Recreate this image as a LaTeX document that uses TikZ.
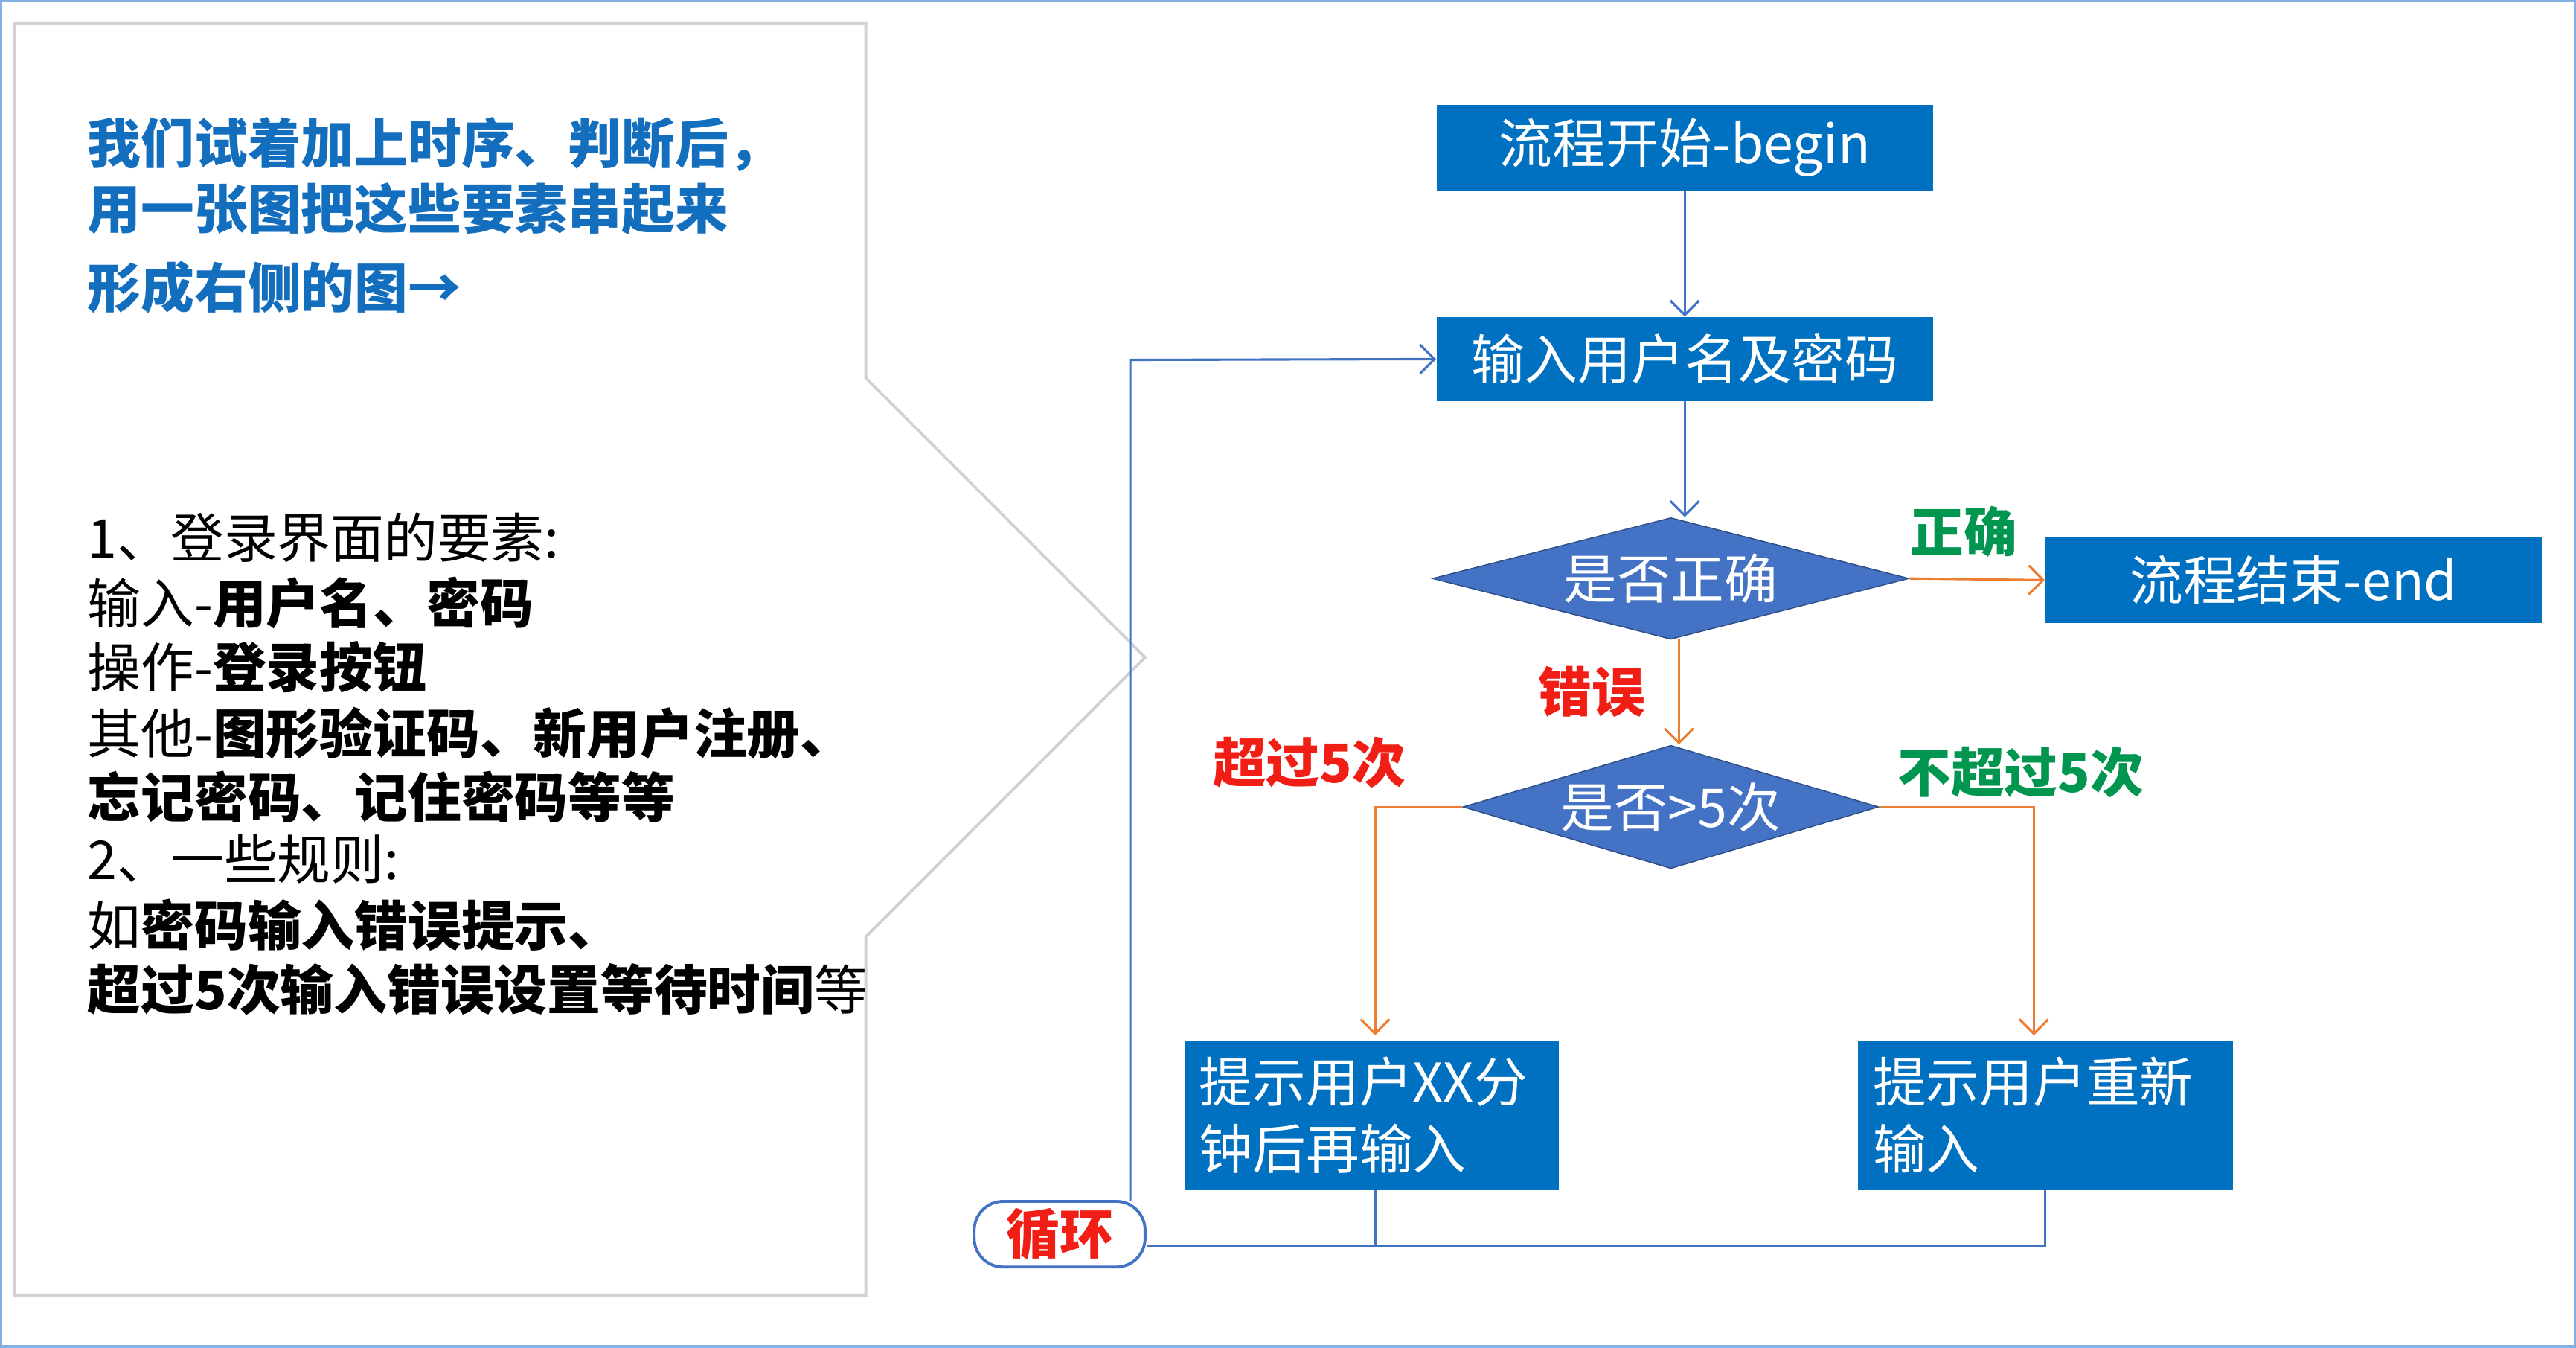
\documentclass[tikz,border=0pt]{standalone}
\usepackage{fontspec}
\setmainfont{Noto Sans CJK SC}
\usetikzlibrary{shapes.geometric,arrows.meta}
\definecolor{bbox}{RGB}{0,112,192}
\definecolor{dia}{RGB}{68,114,196}
\definecolor{org}{RGB}{237,125,49}
\definecolor{grn}{RGB}{0,150,80}
\definecolor{rd}{RGB}{240,30,20}
\definecolor{ttl}{RGB}{20,110,190}
\newcommand{\fsz}{\fontsize{18.5}{23}\selectfont}
\tikzset{
 bx/.style={fill=bbox,text=white,font=\fsz,inner sep=0pt},
 dm/.style={diamond,aspect=3.9,fill=dia,draw=dia!70!black,text=white,font=\fsz,inner sep=0pt},
 ba/.style={draw=dia,line width=0.8pt,-{Straight Barb[length=5pt]}},
 oa/.style={draw=org,line width=0.8pt,-{Straight Barb[length=5pt]}},
 lab/.style={font=\fsz\bfseries},
 lt/.style={anchor=west,font=\fsz,inner sep=0pt},
}
\begin{document}
\begin{tikzpicture}[x=0.02cm,y=-0.02cm]
\useasboundingbox (0,0) rectangle (1568,820);
\fill[white] (0,0) rectangle (1568,820);
\draw[cyan!60!blue!50,line width=1pt] (0.5,0.5) rectangle (1567.5,819.5);
% left panel
\draw[gray!35,line width=1pt] (527,14) -- (9,14) -- (9,788) -- (527,788) -- (527,570) -- (697,400) -- (527,230) -- cycle;
\begin{scope}[every node/.style={lt,text=ttl,font=\fsz\bfseries}]
\node (t1) at (53,88) {我们试着加上时序、判断后，};
\node (t2) at (53,127) {用一张图把这些要素串起来};
\node (t3) at (53,175) {形成右侧的图→};
\end{scope}
\node[lt] (l1) at (53,327) {1、登录界面的要素:};
\node[lt] (l2) at (53,367) {输入-\textbf{用户名、密码}};
\node[lt] (l3) at (53,406) {操作-\textbf{登录按钮}};
\node[lt] (l4) at (53,446) {其他-\textbf{图形验证码、新用户注册、}};
\node[lt] (l5) at (53,485) {\textbf{忘记密码、记住密码等等}};
\node[lt] (l6) at (53,523) {2、一些规则:};
\node[lt] (l7) at (53,563) {如\textbf{密码输入错误提示、}};
\node[lt] (l8) at (53,602) {\textbf{超过5次输入错误设置等待时间}等};
% flowchart
\node[bx,minimum width=302*0.02cm,minimum height=52*0.02cm] (b) at (1025.5,90) {流程开始-begin};
\node[bx,minimum width=302*0.02cm,minimum height=51*0.02cm] (in) at (1025.5,218.5) {输入用户名及密码};
\node[dm,minimum width=290*0.02cm,minimum height=74*0.02cm] (d1) at (1017,352) {是否正确};
\node[bx,minimum width=302*0.02cm,minimum height=52*0.02cm] (e) at (1396,353) {流程结束-end};
\node[dm,minimum width=253*0.02cm,minimum height=75*0.02cm] (d2) at (1017,491) {是否>5次};
\node[bx,minimum width=228*0.02cm,minimum height=91*0.02cm,text width=210*0.02cm,align=left] (p1) at (835,678.5) {提示用户XX分\\钟后再输入};
\node[bx,minimum width=228*0.02cm,minimum height=91*0.02cm,text width=210*0.02cm,align=left] (p2) at (1245,678.5) {提示用户重新\\输入};
\node[draw=dia,line width=1pt,rounded corners=10pt,fill=white,minimum width=104*0.02cm,minimum height=40*0.02cm,text=rd,font=\fsz\bfseries,inner sep=0pt] (lp) at (645,751) {循环};
\draw[ba] (b.south) -- (in.north);
\draw[ba] (in.south) -- (in.south|-d1.north);
\draw[oa] (d1.east) -- (e.west) node[pos=0.4,above=4pt,text=grn,lab]{正确};
\draw[oa] (1022,389) -- (1022,453) node[midway,left=8pt,text=rd,lab]{错误};
\coordinate (c1) at (837,491);
\coordinate (c2) at (1238,491);
\draw[oa] (d2.west) -- (c1) -- (837,630);
\draw[oa] (d2.east) -- (c2) -- (1238,630);
\node[lab,text=rd] (s1) at (797,464) {超过5次};
\node[lab,text=grn] (s2) at (1230,470) {不超过5次};
\draw[dia,line width=0.8pt] (p1.south-|837,0) -- (837,758);
\draw[dia,line width=0.8pt] (p2.south) -- (1245,758) -- (lp.east|-0,758);
\draw[ba] (688,731) -- (688,219) -- (in.west);
\end{tikzpicture}
\end{document}
